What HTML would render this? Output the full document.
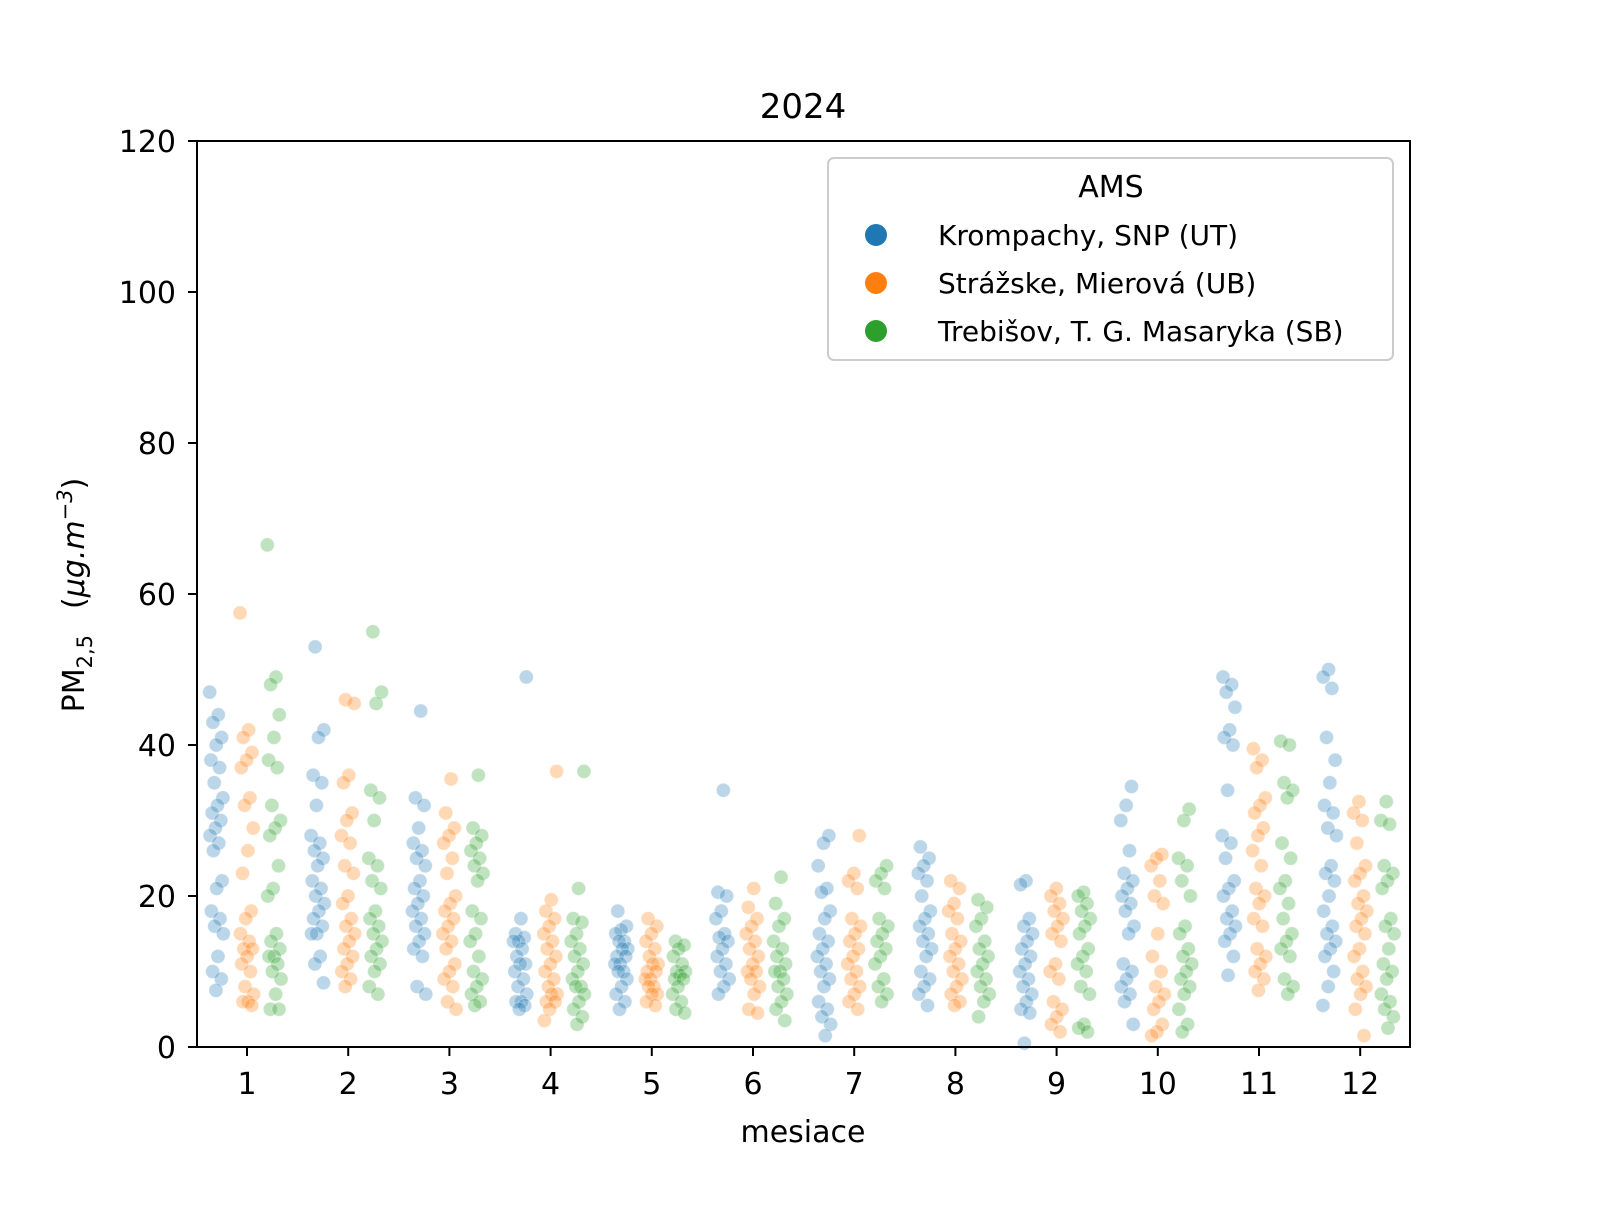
<!DOCTYPE html>
<html><head><meta charset="utf-8"><style>
body{margin:0;background:#fff;}
svg text{font-family:"DejaVu Sans","Liberation Sans",sans-serif;fill:#000;}
</style></head><body>
<svg id="chart" width="1600" height="1200" viewBox="0 0 1600 1200" xmlns="http://www.w3.org/2000/svg">
<rect width="1600" height="1200" fill="#fff"/>
<g id="points"></g>
<rect x="197" y="141" width="1213" height="906" fill="none" stroke="#000" stroke-width="2"/>
<g id="axes"></g>
<text x="803" y="118" font-size="34" text-anchor="middle">2024</text>
<text x="803" y="1142" font-size="30" text-anchor="middle">mesiace</text>
<text transform="translate(84,595) rotate(-90)" font-size="30" text-anchor="middle">PM<tspan font-size="21" dy="8">2,5</tspan><tspan dy="-8" dx="26">(</tspan><tspan font-style="italic">μg.m</tspan><tspan font-size="21" dy="-12" font-style="italic">−3</tspan><tspan dy="12">)</tspan></text>
<g>
<rect x="828" y="158" width="565" height="202" rx="6" fill="#fff" fill-opacity="0.8" stroke="#ccc" stroke-width="2"/>
<text x="1111" y="197" font-size="30" text-anchor="middle">AMS</text>
<circle cx="876" cy="235" r="11" fill="#1f77b4"/>
<text x="938" y="245" font-size="28">Krompachy, SNP (UT)</text>
<circle cx="876" cy="283" r="11" fill="#ff7f0e"/>
<text x="938" y="293" font-size="28">Strážske, Mierová (UB)</text>
<circle cx="876" cy="331" r="11" fill="#2ca02c"/>
<text x="938" y="341" font-size="28">Trebišov, T. G. Masaryka (SB)</text>
</g>
</svg>
<script>
const months=[1,2,3,4,5,6,7,8,9,10,11,12];
const yTicks=[0,20,40,60,80,100,120];
const krompachy=[
[47,44,43,41,40,38,37,35,33,32,31,30,29,28,27,26,22,21,18,17,16,15,12,10,9,7.5],
[53,42,41,36,35,32,28,27,26,25,24,22,21,20,19,18,17,16,15,15,12,11,8.5],
[44.5,33,32,29,27,26,25,24,22,21,20,19,18,17,16,15,14,13,12,8,7],
[49,17,15,14.5,14,14,13,12,11,11,10,9,8,7,6,6,5.5,5],
[18,16,15.5,15,14,14,13,13,12,12,11,11,10,10,9,8,7,6,5],
[34,20.5,20,18,17,15,14.5,14,13,12,11,10,9,8,7],
[28,27,24,21,20.5,18,17,15,14,13,12,11,10,9,8,6,5,4,3,1.5],
[26.5,25,24,23,22,20,18,17,16,15,14,13,12,10,9,8,7,5.5],
[22,21.5,17,16,15,14,13,12,11,10,9,8,7,6,5,4.5,0.5],
[34.5,32,30,26,23,22,21,20,19,18,16,15,11,10,9,8,7,6,3],
[49,48,47,45,42,41,40,34,28,27,25,22,21,20,18,17,16,15,14,12,9.5],
[50,49,47.5,41,38,35,32,31,29,28,24,23,22,20,18,16,15,14,13,12,10,8,5.5]];
const strazske=[
[57.5,42,41,39,38,37,33,32,29,26,23,18,17,15,14,13,13,12,11,10,8,7,6,6,5.5],
[46,45.5,36,35,31,30,28,27,24,23,20,19,17,16,15,14,13,12,11,10,9,8],
[35.5,31,29,28,27,25,23,20,19,18,17,16,15,14,13,11,10,9,8,6,5],
[36.5,19.5,18,17,16,15,14,13,12,11,10,9,8,7,7,6,6,5,3.5],
[17,16,15,14,13,12,11,11,10,10,9,9,8,8,7,7,6,5.5],
[21,18.5,17,16,15,14,13,12,11,10,10,9,8,7,5,4.5],
[28,23,22,21,17,16,15,14,13,12,11,10,9,8,7,6,5],
[22,21,19,18,17,15,14,13,12,11,10,9,8,7,6,5.5],
[21,20,19,18,17,16,15,14,11,10,9,6,5,4,3,2],
[25.5,25,24,22,20,19,15,12,10,8,7,6,5,3,2,1.5],
[39.5,38,37,33,32,31,29,28,26,24,21,20,19,17,16,13,12,11,10,9,7.5],
[32.5,31,30,27,24,23,22,20,19,18,17,16,15,13,12,10,9,8,7,5,1.5]];
const trebisov=[
[66.5,49,48,44,41,38,37,32,30,29,28,24,21,20,15,14,13,12,12,11,10,9,7,5,5],
[55,47,45.5,34,33,30,25,24,22,21,18,17,16,15,14,13,12,11,10,8,7],
[36,29,28,27,26,25,24,23,22,18,17,15,14,12,10,9,8,7,6,5.5],
[36.5,21,17,16.5,15,14,13,12,11,10,9,8,8,7,6,5,4,3],
[14,13.5,13,12,11,10,10,9.5,9,9,8,7,6,5,4.5],
[22.5,19,17,16,14,13,12,11,10,10,9,8,7,6,5,3.5],
[24,23,22,21,17,16,15,14,13,12,11,9,8,7,6],
[19.5,18.5,17,16,14,13,12,11,10,9,8,7,6,4],
[20.5,20,19,18,17,16,15,13,12,11,10,8,7,3,2.5,2],
[31.5,30,25,24,22,20,16,15,13,12,11,10,9,8,7,5,3,2],
[40.5,40,35,34,33,27,25,22,21,19,17,15,14,13,12,9,8,7],
[32.5,30,29.5,24,23,22,21,17,16,15,13,11,10,9,7,6,5,4,2.5]];
const NS='http://www.w3.org/2000/svg';
const xScale=m=>247+(m-1)*101.2;
const yScale=v=>1047-v*7.55;
const pts=document.getElementById('points');
const axes=document.getElementById('axes');
const series=[[krompachy,'#1f77b4',-0.3,'krompachy'],[strazske,'#ff7f0e',0,'strazske'],[trebisov,'#2ca02c',0.27,'trebisov']];
series.forEach(([data,col,off,nm])=>{
  data.forEach((vals,mi)=>{
    vals.forEach((v,i)=>{
      const j=(((i*0.618+mi*0.31)%1)-0.5)*14;
      const c=document.createElementNS(NS,'circle');
      
      
      c.setAttribute('cx',xScale(months[mi]+off)+j);
      c.setAttribute('cy',yScale(v));
      c.setAttribute('r',7);
      c.setAttribute('fill',col);
      c.setAttribute('fill-opacity',0.3);
      c.setAttribute('stroke','#fff');
      c.setAttribute('stroke-opacity',0.3);
      pts.appendChild(c);
    });
  });
});
months.forEach(m=>{
  const x=xScale(m);
  const l=document.createElementNS(NS,'line');
  
  
  l.setAttribute('x1',x);l.setAttribute('x2',x);l.setAttribute('y1',1047);l.setAttribute('y2',1056);
  l.setAttribute('stroke','#000');l.setAttribute('stroke-width',2);
  axes.appendChild(l);
  const t=document.createElementNS(NS,'text');
  
  
  t.setAttribute('x',x);t.setAttribute('y',1094);t.setAttribute('font-size',30);t.setAttribute('text-anchor','middle');
  t.textContent=m;axes.appendChild(t);
});
yTicks.forEach(v=>{
  const y=yScale(v);
  const l=document.createElementNS(NS,'line');
  
  
  l.setAttribute('x1',188);l.setAttribute('x2',197);l.setAttribute('y1',y);l.setAttribute('y2',y);
  l.setAttribute('stroke','#000');l.setAttribute('stroke-width',2);
  axes.appendChild(l);
  const t=document.createElementNS(NS,'text');
  
  
  t.setAttribute('x',176);t.setAttribute('y',y+11);t.setAttribute('font-size',30);t.setAttribute('text-anchor','end');
  t.textContent=v;axes.appendChild(t);
});
</script>
</body></html>
